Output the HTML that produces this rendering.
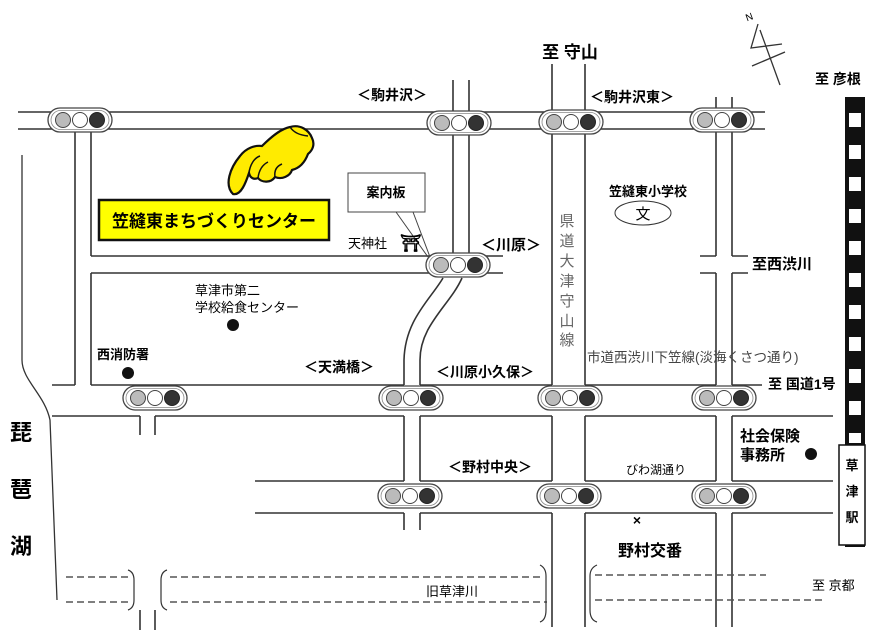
<!DOCTYPE html>
<html><head><meta charset="utf-8"><style>
html,body{margin:0;padding:0;background:#fff;}
svg{display:block;font-family:"Liberation Sans","Noto Sans CJK JP",sans-serif;}
.b{font-weight:bold;}
</style></head><body>
<svg width="882" height="643" viewBox="0 0 882 643" xmlns="http://www.w3.org/2000/svg">
<defs>
<g id="sig">
<rect x="-32" y="-12" width="64" height="24" rx="12" fill="#fff" stroke="#444" stroke-width="1.3"/>
<rect x="-29" y="-9.5" width="58" height="19" rx="9.5" fill="none" stroke="#888" stroke-width="0.8"/>
<circle cx="-17" cy="0" r="7.5" fill="#bbb" stroke="#444"/>
<circle cx="0" cy="0" r="7.5" fill="#fff" stroke="#444"/>
<circle cx="17" cy="0" r="7.5" fill="#333" stroke="#222"/>
</g>
</defs>
<g stroke="#333" stroke-width="1.6" fill="none">
<path d="M18 112H453M469 112H552M585 112H716M732 112H765"/>
<path d="M18 129H75M91 129H453M469 129H552M585 129H716M732 129H765"/>
<path d="M453 80V112M469 80V112M552 64V112M585 64V112M716 97V112M732 97V112"/>
<path d="M75 129V385M91 129V256M91 273V385"/>
<path d="M91 256H453M469 256H503M91 273H440M469 273H503"/>
<path d="M453 129V256M469 129V256"/>
<path d="M443 278C430 300 405 320 404 360L404 385M462 278C450 305 420 325 420 360L420 385"/>
<path d="M552 129V385M585 129V385M716 129V256M732 129V256M716 273V385M732 273V385"/>
<path d="M700 256H716M732 256H748M700 273H716M732 273H748"/>
<path d="M52 385H75M91 385H404M420 385H552M585 385H716M732 385H762"/>
<path d="M52 416H140M155 416H404M420 416H552M585 416H716M732 416H833"/>
<path d="M140 416V435M155 416V435M140 610V630M155 610V630"/>
<path d="M404 416V481M420 416V481M404 513V530M420 513V530"/>
<path d="M255 481H404M420 481H552M585 481H716M732 481H833"/>
<path d="M255 513H404M420 513H552M585 513H716M732 513H833"/>
<path d="M552 416V481M585 416V481M552 513V627M585 513V627M716 416V481M732 416V481M716 513V627M732 513V627"/>
<path d="M22 155L22 360C22 380 45 395 50 420L57 600" stroke-width="1.3"/>
<g stroke="#555" stroke-dasharray="7,4" stroke-width="1.6">
<path d="M66 577H128M66 602H128M170 577H543M170 602H547M595 575H766M595 600H822"/>
</g>
<path d="M128 570Q134 572 134 580V600Q134 608 128 610M167 570Q161 572 161 580V600Q161 608 167 610M540 565Q546 568 546 576V610Q546 620 540 622M597 565Q590 568 590 576V610Q590 620 597 622" stroke-width="1.2"/>
<path d="M758 24L751 48L782 44M760 30L780 85M752 66L785 52" stroke-width="1.3"/>
</g>
<text x="745" y="20" font-size="10" transform="rotate(-20 750 15)">N</text>
<rect x="845" y="97" width="20" height="450" fill="#111"/>
<g fill="#fff">
<rect x="849" y="113" width="12" height="14"/><rect x="849" y="145" width="12" height="14"/><rect x="849" y="177" width="12" height="14"/><rect x="849" y="209" width="12" height="14"/><rect x="849" y="241" width="12" height="14"/><rect x="849" y="273" width="12" height="14"/><rect x="849" y="305" width="12" height="14"/><rect x="849" y="337" width="12" height="14"/><rect x="849" y="369" width="12" height="14"/><rect x="849" y="401" width="12" height="14"/><rect x="849" y="433" width="12" height="10"/>
</g>
<rect x="839" y="445" width="26" height="100" fill="#fff" stroke="#111" stroke-width="1.5"/>
<text x="852" y="470" font-size="13" class="b" text-anchor="middle">草</text>
<text x="852" y="496" font-size="13" class="b" text-anchor="middle">津</text>
<text x="852" y="522" font-size="13" class="b" text-anchor="middle">駅</text>
<use href="#sig" x="80" y="120"/><use href="#sig" x="459" y="123"/><use href="#sig" x="571" y="122"/><use href="#sig" x="722" y="120"/>
<use href="#sig" x="458" y="265"/>
<use href="#sig" x="155" y="398"/><use href="#sig" x="411" y="398"/><use href="#sig" x="570" y="398"/><use href="#sig" x="724" y="398"/>
<use href="#sig" x="410" y="496"/><use href="#sig" x="569" y="496"/><use href="#sig" x="724" y="496"/>
<!-- hand -->
<path d="M233 194C224 185 230 168 240 156C246 148 255 145 262 146C270 138 280 129 290 127C300 124 309 130 312 138C315 144 313 150 308 154C305 162 300 168 292 170C290 176 282 180 275 177C271 183 262 183 258 178C254 180 250 178 249 173C246 182 241 196 233 194Z" fill="#ffeb00" stroke="#111" stroke-width="2.2"/>
<path d="M249 173C250 165 254 158 260 156M258 178C259 170 262 165 268 162M275 177C274 170 277 166 282 164M290 127C294 133 300 135 308 136" fill="none" stroke="#111" stroke-width="1.5"/>
<rect x="99" y="200" width="230" height="40" fill="#ffff00" stroke="#111" stroke-width="2.5"/>
<text x="214" y="227" font-size="17" class="b" text-anchor="middle">笠縫東まちづくりセンター</text>
<path d="M396 212L428 257M413 212L430 257" stroke="#444" stroke-width="1"/>
<rect x="348" y="173" width="77" height="39" fill="#fff" stroke="#444" stroke-width="1"/>
<text x="386" y="197" font-size="13" class="b" text-anchor="middle">案内板</text>
<text x="348" y="248" font-size="13">天神社</text>
<text x="400" y="249" font-size="17" class="b">⛩</text>
<text x="481" y="250" font-size="15" class="b">＜川原＞</text>
<text x="570" y="58" font-size="17" class="b" text-anchor="middle">至 守山</text>
<text x="392" y="100" font-size="14" class="b" text-anchor="middle">＜駒井沢＞</text>
<text x="632" y="102" font-size="14" class="b" text-anchor="middle">＜駒井沢東＞</text>
<text x="815" y="84" font-size="14" class="b">至 彦根</text>
<text x="648" y="196" font-size="13" class="b" text-anchor="middle">笠縫東小学校</text>
<ellipse cx="643" cy="213" rx="28" ry="12" fill="#fff" stroke="#333"/>
<text x="643" y="219" font-size="15" text-anchor="middle">文</text>
<g font-size="15" fill="#666" text-anchor="middle">
<text x="567" y="226">県</text><text x="567" y="246">道</text><text x="567" y="266">大</text><text x="567" y="286">津</text><text x="567" y="306">守</text><text x="567" y="326">山</text><text x="567" y="345">線</text>
</g>
<text x="752" y="269" font-size="15" class="b">至西渋川</text>
<text x="195" y="295" font-size="13">草津市第二</text>
<text x="195" y="312" font-size="13">学校給食センター</text>
<circle cx="233" cy="325" r="6" fill="#111"/>
<text x="97" y="359" font-size="13" class="b">西消防署</text>
<circle cx="128" cy="373" r="6" fill="#111"/>
<text x="304" y="372" font-size="14" class="b">＜天満橋＞</text>
<text x="436" y="377" font-size="14" class="b">＜川原小久保＞</text>
<text x="587" y="362" font-size="13.5" fill="#444">市道西渋川下笠線(淡海くさつ通り)</text>
<rect x="764" y="373" width="80" height="20" fill="#fff"/>
<text x="768" y="389" font-size="14" class="b">至 国道1号</text>
<text x="10" y="440" font-size="22" class="b">琵</text>
<text x="10" y="497" font-size="22" class="b">琶</text>
<text x="10" y="554" font-size="22" class="b">湖</text>
<text x="740" y="441" font-size="15" class="b">社会保険</text>
<text x="740" y="460" font-size="15" class="b">事務所</text>
<circle cx="811" cy="454" r="6" fill="#111"/>
<text x="448" y="472" font-size="14" class="b">＜野村中央＞</text>
<text x="626" y="474" font-size="12">びわ湖通り</text>
<text x="637" y="525" font-size="14" class="b" text-anchor="middle">×</text>
<text x="618" y="556" font-size="16" class="b">野村交番</text>
<text x="426" y="596" font-size="13">旧草津川</text>
<text x="812" y="590" font-size="13">至 京都</text>
</svg>
</body></html>
